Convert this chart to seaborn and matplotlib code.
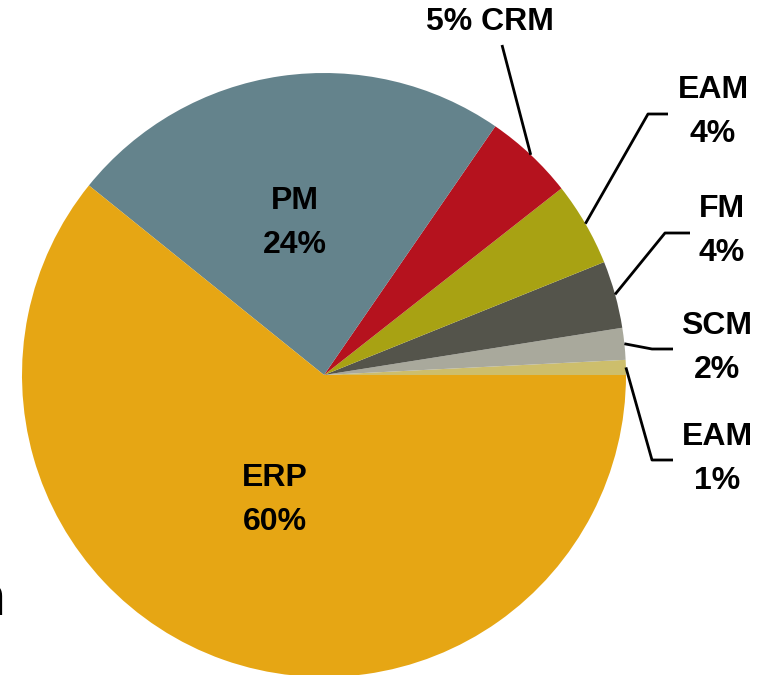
import numpy as np
import matplotlib
matplotlib.use("Agg")
import matplotlib.pyplot as plt
import seaborn as sns

sns.set_style("white")
plt.rcParams['font.family'] = ['Liberation Sans', 'DejaVu Sans']

# shares, counter-clockwise from 3 o'clock
modules = ["EAM", "SCM", "FM", "EAM", "CRM", "PM", "ERP"]
share = [0.8, 1.7, 3.6, 4.5, 4.8, 23.8, 60.8]
pct_labels = ["1%", "2%", "4%", "4%", "5%", "24%", "60%"]
colors = ["#CDBE6C", "#A9A99C", "#54544B", "#A8A213", "#B5121E", "#64838C", "#E6A614"]

W, H = 762, 675
cx, cy, R = 324, H - 375, 302

fig = plt.figure(figsize=(W / 100, H / 100), dpi=100)
ax = fig.add_axes([0, 0, 1, 1])
wedges, _ = ax.pie(share, colors=colors, startangle=0, counterclock=True,
                   center=(cx, cy), radius=R, frame=True,
                   wedgeprops={'linewidth': 0})
ax.set_xlim(0, W)
ax.set_ylim(0, H)
ax.set_aspect('equal')
ax.axis('off')

fs = 23
ls = 1.62
# inside labels
ax.text(295, H - 223, "PM\n24%", ha='center', va='center', fontsize=fs,
        fontweight='bold', color='black', linespacing=ls)
ax.text(275, H - 500, "ERP\n60%", ha='center', va='center', fontsize=fs,
        fontweight='bold', color='black', linespacing=ls)

# outside labels with leader lines
def anchor(i):
    w = wedges[i]
    th = np.deg2rad((w.theta1 + w.theta2) / 2)
    return cx + R * np.cos(th), cy + R * np.sin(th)

# (index, text pos, elbow, line end)
outside = [
    (4, (490, 22), None, (502, 45)),
    (3, (713, 112), (648, 114), (668, 114)),
    (2, (722, 231), (665, 233), (690, 233)),
    (1, (717, 348), (652, 349), (673, 349)),
    (0, (717, 459), (652, 460), (673, 460)),
]
for i, tpos, elbow, end in outside:
    x0, y0 = anchor(i)
    xs, ys = [x0], [y0]
    if elbow is not None:
        xs.append(elbow[0]); ys.append(H - elbow[1])
    xs.append(end[0]); ys.append(H - end[1])
    ax.plot(xs, ys, color='black', lw=2, solid_capstyle='butt')
    if i == 4:
        txt = pct_labels[i] + " " + modules[i]
    else:
        txt = modules[i] + "\n" + pct_labels[i]
    ax.text(tpos[0], H - tpos[1], txt, ha='center', va='center', fontsize=fs,
            fontweight='bold', color='black', linespacing=ls)

# clipped text fragment at left edge (cut off in the source too)
ax.text(6, H - 600, "n", ha='right', va='center', fontsize=42,
        fontweight='bold', color='black')

fig.savefig("out.png", dpi=100)
